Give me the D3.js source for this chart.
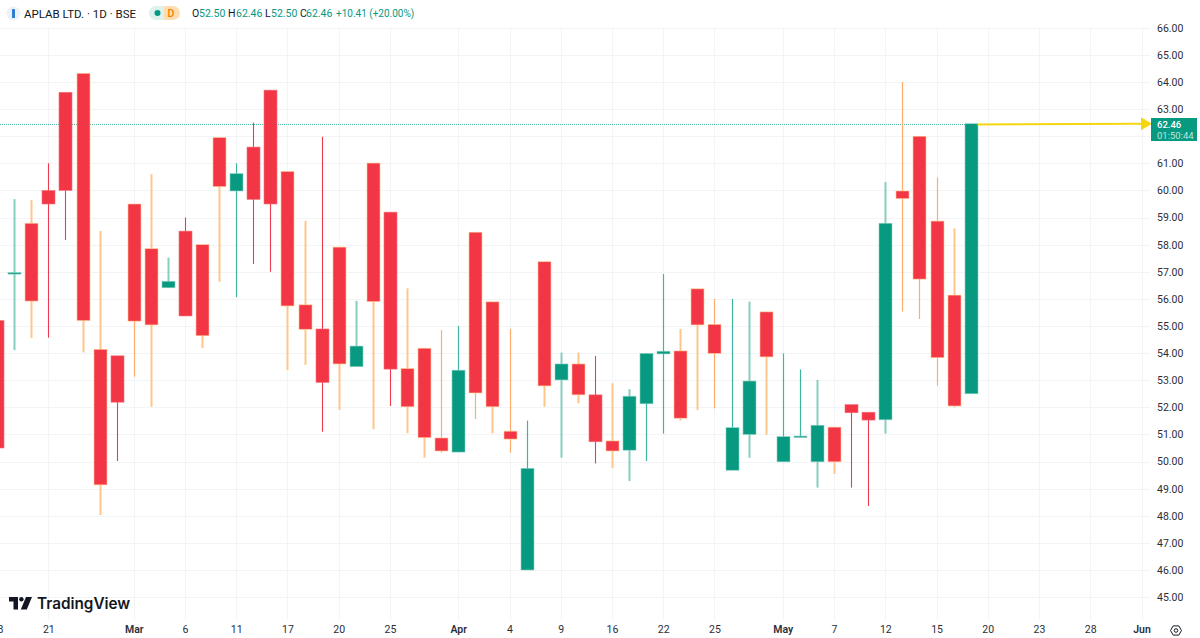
<!DOCTYPE html>
<html>
<head>
<meta charset="utf-8">
<title>APLAB LTD. 1D BSE</title>
<script src="https://cdn.jsdelivr.net/npm/d3@7/dist/d3.min.js"></script>
<style>
  html, body { margin: 0; padding: 0; background: #fff; overflow: hidden; }
  svg { display: block; }
  text { font-family: Roboto, "Liberation Sans", sans-serif; }
</style>
</head>
<body>
<svg id="chart" width="1200" height="638"></svg>
<script>
// Daily sessions, from the clipped bar at the left edge up to the live bar.
const opens  = [55.20,56.93,58.79,60.00,63.62,64.32,54.14,53.90,59.50,57.85,56.41,58.50,58.00,61.95,59.98,61.60,63.70,60.70,55.78,54.89,57.91,53.50,61.01,59.20,53.43,54.18,50.87,50.35,58.46,55.89,51.12,46.00,57.37,53.01,53.60,52.46,50.76,50.42,52.13,53.97,54.08,56.37,55.06,49.68,51.00,55.52,49.99,50.89,49.99,51.27,52.10,51.82,51.54,59.98,62.00,58.87,56.14,52.50];
const highs  = [55.20,59.68,59.65,61.00,63.62,64.32,58.50,53.90,59.50,60.60,57.52,59.00,58.00,61.95,61.00,62.50,63.70,60.70,58.88,61.98,57.91,55.93,61.01,59.20,56.39,54.18,54.85,55.00,58.46,55.89,54.89,51.51,57.37,54.02,54.02,53.89,52.89,52.67,54.00,56.92,54.89,56.37,56.00,56.00,55.90,55.52,53.99,53.40,53.01,51.27,52.10,51.82,60.31,64.00,62.00,60.48,58.60,62.46];
const lows   = [50.50,54.11,54.56,54.57,58.17,54.02,48.03,50.02,53.13,52.02,56.41,55.37,54.18,56.63,56.06,57.29,57.00,53.38,53.56,51.10,51.90,53.50,51.19,52.05,51.05,50.14,50.33,50.35,51.57,51.04,50.33,46.00,52.02,50.14,52.15,49.93,49.76,49.28,50.02,51.03,51.51,51.90,51.96,49.68,50.14,50.98,49.99,50.89,49.04,49.54,49.04,48.36,51.03,55.53,55.26,52.80,52.00,52.50];
const closes = [50.50,56.97,55.92,59.50,60.00,55.20,49.14,52.19,55.18,55.04,56.65,55.37,54.64,60.14,60.62,59.67,59.50,55.74,54.88,52.92,53.60,54.26,55.90,53.41,52.02,50.88,50.39,53.37,52.53,52.02,50.83,49.75,52.79,53.60,52.46,50.73,50.39,52.41,53.99,54.07,51.60,55.04,53.99,51.25,52.97,53.86,50.92,50.94,51.34,49.99,51.80,51.53,58.79,59.70,56.73,53.83,52.05,62.46];

// Wick tint per session: a = pale orange, d = deep orange, r = red, g = teal, l = pale teal
const tints = ["r","l","a","r","r","a","a","r","d","a","l","r","a","a","g","r","r","a","a","r","a","l","a","r","a","a","d","g","d","a","d","g","a","l","a","r","a","l","g","g","a","a","d","g","l","a","g","g","l","a","r","r","l","d","d","d","a","g"];

const sessionIndex = opens.map((_, i) => i - 1);

const priceTicks = d3.range(45, 67);
const timeTickIdx = [-1, 2, 7, 10, 13, 16, 19, 22, 26, 29, 32, 35, 38, 41, 45, 48, 51, 54, 57, 60, 63, 66];
const timeTickLabels = ["18","21","Mar","6","11","17","20","25","Apr","4","9","16","22","25","May","7","12","15","20","23","28","Jun"];
const monthLabels = ["Mar","Apr","May","Jun"];

const lastPrice = closes[closes.length - 1];
const lastIdx = sessionIndex[sessionIndex.length - 1];

const y = d3.scaleLinear().domain([46, 64]).range([570, 82]);
const x = d3.scaleLinear().domain([-1, 66]).range([-2.9, 1141.5]);

const GREEN = "#089981", RED = "#F23645";
const wickStyle = {
  a: { c: "#FFC68A", w: 2 },
  d: { c: "#FFAC6A", w: 1.2 },
  r: { c: "#EE3A4A", w: 1.1 },
  g: { c: "#3FB49F", w: 1.2 },
  l: { c: "#86CFBF", w: 2 }
};
const edgeColour = { a: "#FFC88F", d: "#FFC88F", r: "#F7737E", g: "#8AD2C3", l: "#8AD2C3" };

const svg = d3.select("#chart");

// Gridlines stop short of both axes
const grid = svg.append("g").attr("stroke", "#F3F4F5").attr("stroke-width", 1);
grid.selectAll("line.h").data(priceTicks).join("line")
  .attr("class", "h")
  .attr("x1", 0).attr("x2", 1150)
  .attr("y1", d => Math.round(y(d)) + 0.5).attr("y2", d => Math.round(y(d)) + 0.5);
grid.selectAll("line.v").data(timeTickIdx.slice(1)).join("line")
  .attr("class", "v")
  .attr("y1", 27).attr("y2", 620)
  .attr("x1", d => Math.round(x(d)) + 0.5).attr("x2", d => Math.round(x(d)) + 0.5);

// Last price guide
svg.append("line")
  .attr("x1", 0).attr("x2", x(lastIdx))
  .attr("y1", Math.round(y(lastPrice)) + 0.5).attr("y2", Math.round(y(lastPrice)) + 0.5)
  .attr("stroke", GREEN).attr("stroke-width", 1).attr("stroke-dasharray", "1 1").attr("opacity", 0.75);

// Candles
const candles = svg.append("g").selectAll("g").data(sessionIndex).join("g")
  .attr("transform", i => `translate(${Math.round(x(i))},0)`);

candles.append("line")
  .attr("x1", 0.5).attr("x2", 0.5)
  .attr("y1", i => y(highs[i + 1])).attr("y2", i => y(lows[i + 1]))
  .attr("stroke", i => wickStyle[tints[i + 1]].c)
  .attr("stroke-width", i => wickStyle[tints[i + 1]].w);

candles.append("rect")
  .attr("x", -6)
  .attr("width", 13)
  .attr("y", i => y(Math.max(opens[i + 1], closes[i + 1])))
  .attr("height", i => Math.max(1.5, Math.abs(y(opens[i + 1]) - y(closes[i + 1]))))
  .attr("fill", i => closes[i + 1] >= opens[i + 1] ? GREEN : RED)
  .attr("stroke", i => edgeColour[tints[i + 1]])
  .attr("stroke-width", 0.6);

// Price axis; the live tag sits where the 62.00 label would go
const yAxis = svg.append("g").attr("transform", "translate(1157,0)")
  .call(d3.axisRight(y).tickValues(priceTicks.filter(d => d !== 62)).tickSize(0).tickPadding(0).tickFormat(d3.format(".2f")));
yAxis.select(".domain").remove();
yAxis.selectAll("text").attr("font-size", 10.5).attr("fill", "#2A2E39")
  .style("font-family", "Roboto, sans-serif");

// Time axis
const tickLabelAt = new Map(timeTickIdx.map((d, k) => [d, timeTickLabels[k]]));
const xAxis = svg.append("g").attr("transform", "translate(0,626)")
  .call(d3.axisBottom(x).tickValues(timeTickIdx).tickSize(0).tickPadding(0).tickFormat(d => tickLabelAt.get(d)));
xAxis.select(".domain").remove();
xAxis.selectAll("text").attr("font-size", 10.5).attr("fill", "#2A2E39")
  .attr("font-weight", d => monthLabels.includes(tickLabelAt.get(d)) ? 600 : 400);

// Arrow from the last candle to the price tag
const arrowColour = "#F6D70F";
svg.append("line")
  .attr("x1", x(lastIdx) + 7).attr("y1", y(lastPrice) + 0.8)
  .attr("x2", 1142).attr("y2", y(lastPrice))
  .attr("stroke", arrowColour).attr("stroke-width", 2);
const tipY = y(lastPrice);
svg.append("path")
  .attr("d", d3.line()([[1141, tipY - 6.5], [1152, tipY], [1141, tipY + 6.5]]) + "Z")
  .attr("fill", arrowColour);

// Live price tag
const tag = svg.append("g");
tag.append("rect").attr("x", 1151).attr("y", 118).attr("width", 46).attr("height", 23).attr("fill", GREEN);
tag.append("text").attr("x", 1157).attr("y", 127.5).attr("font-size", 9.5).attr("font-weight", 500).attr("fill", "#fff").text(lastPrice.toFixed(2));
tag.append("text").attr("x", 1157).attr("y", 138.5).attr("font-size", 9.5).attr("fill", "#BFE5DD").text("01:50:44");

// Legend row
const head = svg.append("g").attr("font-size", 11);
head.append("circle").attr("cx", 13.5).attr("cy", 13.5).attr("r", 7).attr("fill", "#EEF1F8");
head.append("rect").attr("x", 12).attr("y", 9).attr("width", 3).attr("height", 9).attr("rx", 0.6).attr("fill", "#2E7DD1");
head.append("text").attr("x", 24).attr("y", 17.5).attr("font-size", 11.5).attr("fill", "#131722").text("APLAB LTD. · 1D · BSE");

head.append("path").attr("d", "M164 6H156a7 7 0 0 0 0 14h8Z").attr("fill", "#DDF2EE");
head.append("path").attr("d", "M164 6h9a7 7 0 0 1 0 14h-9Z").attr("fill", "#FFDDB0");
head.append("circle").attr("cx", 157.5).attr("cy", 13).attr("r", 3).attr("fill", GREEN);
head.append("text").attr("x", 171).attr("y", 17).attr("text-anchor", "middle").attr("font-size", 10.5).attr("font-weight", 500).attr("fill", "#F57C00").text("D");

const legendItems = [
  ["O", 192, "52.50", 199],
  ["H", 228, "62.46", 236],
  ["L", 265, "52.50", 271],
  ["C", 300, "62.46", 306]
];
legendItems.forEach(([k, kx, v, vx]) => {
  head.append("text").attr("x", kx).attr("y", 17).attr("font-size", 10.5).attr("fill", "#131722").text(k);
  head.append("text").attr("x", vx).attr("y", 17).attr("font-size", 10.5).attr("fill", GREEN).text(v);
});
head.append("text").attr("x", 336).attr("y", 17).attr("font-size", 10).attr("fill", GREEN).text("+10.41 (+20.00%)");

// TradingView wordmark
const logo = svg.append("g").attr("transform", "translate(9,597)").attr("fill", "#131722");
logo.append("path").attr("d", "M0 0H9V12.5H4.5V4.5H0Z");
logo.append("circle").attr("cx", 12.4).attr("cy", 2.2).attr("r", 2.2);
logo.append("path").attr("d", "M17 0H23L17.8 12.5H11.8Z");
svg.append("text").attr("x", 37).attr("y", 609).attr("font-size", 15.3).attr("font-weight", 600)
  .attr("fill", "#131722").style("font-family", "Inter, Roboto, sans-serif").text("TradingView");

// Axis settings glyph
const cog = svg.append("g").attr("transform", "translate(1176,630.5)").attr("fill", "none").attr("stroke", "#131722").attr("stroke-width", 1);
cog.append("path").attr("d", "M-5.5 0L-2.8 -4.6H2.8L5.5 0L2.8 4.6H-2.8Z");
cog.append("circle").attr("r", 1.8);
</script>
</body>
</html>
